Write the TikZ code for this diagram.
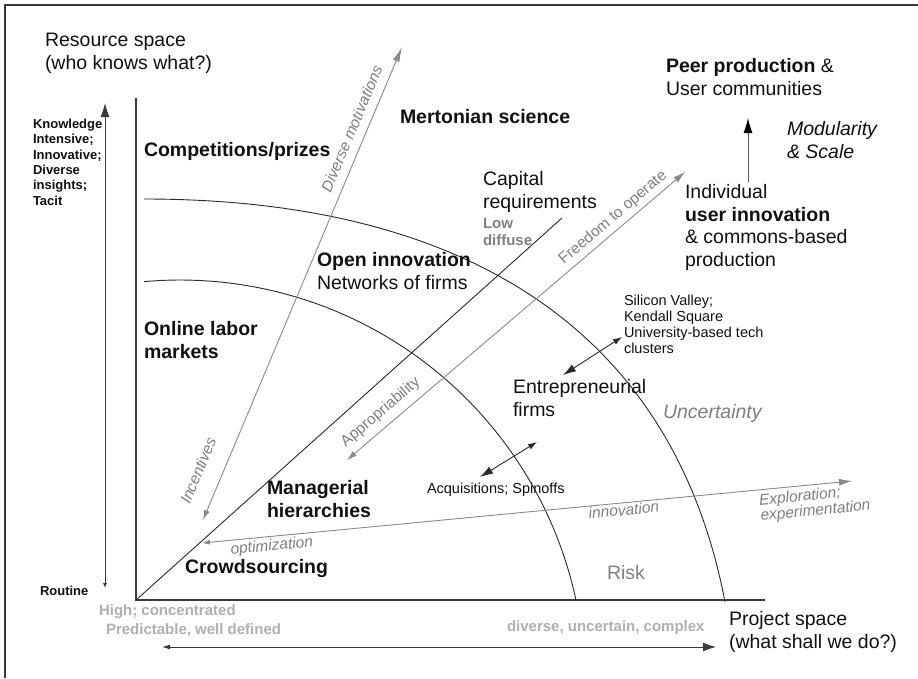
\documentclass[tikz,border=0pt]{standalone}
\usepackage{fontspec}
\setmainfont{Liberation Sans}
\usetikzlibrary{arrows.meta}
\definecolor{axisc}{HTML}{3A3A3A}
\definecolor{linec}{HTML}{2A2A2A}
\definecolor{arrowg}{HTML}{8A8A8A}
\definecolor{labg}{HTML}{808080}
\definecolor{lightg}{HTML}{B0B0B0}
\definecolor{txt}{HTML}{111111}
\begin{document}
\begin{tikzpicture}[x=1pt,y=-1pt,
  lbl/.style={inner sep=0pt, outer sep=0pt, anchor=north west, align=left, text=txt},
  fmain/.style={font=\fontsize{19.5}{22.5}\selectfont},
  fbold/.style={font=\fontsize{19.5}{22.5}\selectfont\bfseries},
  fsb/.style={font=\fontsize{13}{15.4}\selectfont\bfseries},
  fmid/.style={font=\fontsize{14.5}{16.3}\selectfont},
  fgb/.style={font=\fontsize{15}{19}\selectfont\bfseries, text=lightg},
  slab/.style={inner sep=0pt, outer sep=0pt, sloped, text=labg, font=\fontsize{15.5}{15.5}\selectfont},
  slabi/.style={inner sep=0pt, outer sep=0pt, sloped, text=labg, align=left, font=\fontsize{15.5}{15.5}\selectfont\itshape},
  thinl/.style={draw=linec, line width=0.9pt},
  axisl/.style={draw=axisc, line width=1.3pt},
  garrow/.style={draw=arrowg, line width=0.9pt},
]
\useasboundingbox (0,0) rectangle (918,678);
\fill[white] (0,0) rectangle (918,678);
% frame
\draw[draw=axisc, line width=1.3pt] (5,678) -- (5,5) -- (918,5);

% coordinates
\coordinate (O) at (136,600);
\coordinate (Ytop) at (136,98);
\coordinate (Xend) at (765,600);
\coordinate (Dend) at (562,218);
\coordinate (L1) at (105,103);
\coordinate (L2) at (105,588);
\coordinate (B1) at (162,647);
\coordinate (B2) at (716,647);
\coordinate (M1) at (748,182);
\coordinate (M2) at (748,118);
\coordinate (dmA) at (203,520);
\coordinate (dmB) at (402,47);
\coordinate (frA) at (347,460);
\coordinate (frB) at (685,172);
\coordinate (opA) at (202,543);
\coordinate (opB) at (852,481);
\coordinate (e1) at (563,375);
\coordinate (e2) at (622,337);
\coordinate (a1) at (480,477);
\coordinate (a2) at (537,442);

% axes
\draw[axisl] (Ytop) -- (O) -- (Xend);
% diagonal
\draw[thinl] (O) -- (Dend);
% arcs
\draw[thinl] plot[domain=-95.1:-12.1, samples=90, smooth] ({180+405*cos(\x)},{685+405*sin(\x)});
\draw[thinl] (144,199) .. controls (472,199) and (674,335) .. (725,602);

% left vertical double arrow
\draw[draw=axisc, line width=1pt, {Latex[length=5pt,width=4pt]}-{Latex[length=14pt,width=9pt]}] (L2) -- (L1);
% bottom double arrow
\draw[draw=axisc, line width=1pt, {Latex[length=8pt,width=5pt]}-{Latex[length=13pt,width=9pt]}] (B1) -- (B2);
% modularity arrow
\draw[draw=black!65, line width=1pt, -{Latex[length=15pt,width=9pt,color=black]}] (M1) -- (M2);

% gray arrows with labels
\draw[garrow, {Latex[length=10pt,width=6pt]}-{Latex[length=15pt,width=7pt]}] (dmA) -- (dmB)
  node[slabi, pos=0.815, above=9pt] (dmlab) {Diverse motivations}
  node[slabi, pos=0.085, above=18pt] (inclab) {Incentives};
\draw[garrow, {Latex[length=10pt,width=6pt]}-{Latex[length=12pt,width=7pt]}] (frA) -- (frB)
  node[slab, pos=0.127, above=7pt] (aplab) {Appropriability}
  node[slab, pos=0.81, above=4.5pt] (frlab) {Freedom to operate};
\draw[garrow, {Latex[length=8pt,width=5pt]}-{Latex[length=13pt,width=7pt]}] (opA) -- (opB)
  node[slabi, pos=0.106, below=3pt] (optlab) {optimization}
  node[slabi, pos=0.648, below=1.5pt] (innlab) {innovation}
  node[slabi, pos=0.94, below=4pt] (explab) {Exploration;\\experimentation};

% black double arrows
\draw[thinl, {Latex[length=13pt,width=8pt]}-{Latex[length=9pt,width=6pt]}] (e1) -- (e2);
\draw[thinl, {Latex[length=13pt,width=8pt]}-{Latex[length=9pt,width=6pt]}] (a1) -- (a2);

% labels
\node[lbl, fmain] (res) at (45,30.75) {\strut Resource space\\(who knows what?)};
\node[lbl, fsb] (know) at (33,117.5) {\strut Knowledge\\Intensive;\\Innovative;\\Diverse\\insights;\\Tacit};
\node[lbl, fsb] (rout) at (40,585.2) {\strut Routine};
\node[lbl, fbold] (comp) at (144,140.75) {\strut Competitions/prizes};
\node[lbl, fbold] (mert) at (400,107.75) {\strut Mertonian science};
\node[lbl, fmain] (cap) at (483,169.75) {\strut Capital\\requirements};
\node[lbl, font=\fontsize{15}{17}\selectfont\bfseries, text=labg] (low) at (483,216.1) {\strut Low\\diffuse};
\node[lbl, fmain] (peer) at (666,56.75) {\strut\textbf{Peer production} \&\\User communities};
\node[lbl, fmain, font=\fontsize{19.5}{22.5}\selectfont\itshape] (mod) at (787,119.75) {\strut Modularity\\\& Scale};
\node[lbl, fmain] (indiv) at (685,182.75) {\strut Individual\\\textbf{user innovation}\\\& commons-based\\production};
\node[lbl, fmain] (open) at (317,250.75) {\strut\textbf{Open innovation}\\Networks of firms};
\node[lbl, fbold] (online) at (144,319.75) {\strut Online labor\\markets};
\node[lbl, fmid] (silicon) at (624,293.6) {\strut Silicon Valley;\\Kendall Square\\University-based tech\\clusters};
\node[lbl, fmain] (entre) at (513,377.75) {\strut Entrepreneurial\\firms};
\node[lbl, font=\fontsize{19.5}{22.5}\selectfont\itshape, text=labg] (unc) at (663,402.75) {\strut Uncertainty};
\node[lbl, fmid] (acq) at (427,481.6) {\strut Acquisitions; Spinoffs};
\node[lbl, fbold] (mana) at (267,478.75) {\strut Managerial\\hierarchies};
\node[lbl, fbold] (crowd) at (185,557.75) {\strut Crowdsourcing};
\node[lbl, fmain, text=labg] (risk) at (607,563.75) {\strut Risk};
\node[lbl, fgb] (high) at (99,601.7) {\strut High; concentrated\\\hspace*{7pt}Predictable, well defined};
\node[lbl, fgb] (div) at (507,617.7) {\strut diverse, uncertain, complex};
\node[lbl, fmain] (proj) at (729,609.75) {\strut Project space\\(what shall we do?)};
\end{tikzpicture}
\end{document}
